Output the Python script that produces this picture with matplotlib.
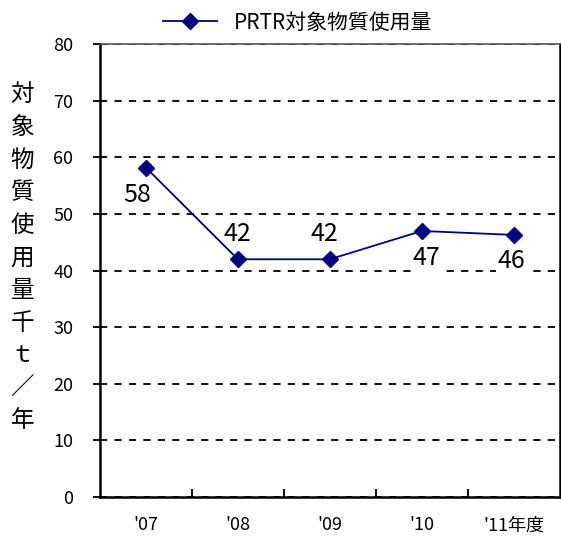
import matplotlib
matplotlib.use('Agg')
import matplotlib.pyplot as plt
import numpy as np

plt.rcParams['font.family'] = ['Noto Sans CJK JP', 'DejaVu Sans']

years = ["'07", "'08", "'09", "'10", "'11年度"]
usage = [58.2, 42, 42, 47, 46.3]
usage_labels = ['58', '42', '42', '47', '46']
# label offsets in points (dx, dy)
label_offsets = [(-6, -29), (0, 9), (-4, 9), (3, -29), (-2, -28)]
ylabel_chars = ['対', '象', '物', '質', '使', '用', '量', '千', 'ｔ', '／', '年']

fig = plt.figure(figsize=(5.61, 5.39), dpi=100)
ax = fig.add_axes([0.178, 0.078, 0.82, 0.84])

x = np.arange(len(years))
ax.plot(x, usage, color='#000080', lw=1.3, marker='D', markersize=8,
        label='PRTR対象物質使用量', zorder=3)

for i, (v, s) in enumerate(zip(usage, usage_labels)):
    ax.annotate(s, (x[i], v), xytext=label_offsets[i], textcoords='offset points',
                ha='center', va='bottom', fontsize=18, zorder=2.5,
                bbox=dict(boxstyle='square,pad=0.05', fc='white', ec='none'))

ax.set_xlim(-0.5, len(years) - 0.5)
ax.set_ylim(0, 80)
ax.set_yticks(range(0, 81, 10))
ax.yaxis.grid(True, linestyle=(0, (4, 4)), color='black', lw=1.3)
ax.set_axisbelow(True)

ax.set_xticks(x)
ax.set_xticklabels(years, fontsize=13)
ax.tick_params(axis='x', length=0, pad=14)
ax.set_xticks(np.arange(0.5, len(years) - 1, 1), minor=True)
ax.tick_params(axis='x', which='minor', direction='in', length=6, width=1.3)
ax.tick_params(axis='y', labelsize=13, direction='out', length=5, width=1.3, pad=14)

for side in ['left', 'bottom', 'right']:
    ax.spines[side].set_linewidth(1.8)
ax.spines['top'].set_linewidth(1.2)
ax.spines['top'].set_color('#555555')

# vertical y label
for i, ch in enumerate(ylabel_chars):
    fig.text(0.040, 0.824 - i * 0.0605, ch, ha='center', va='center', fontsize=17)

ax.legend(loc='lower center', bbox_to_anchor=(0.43, 1.0), frameon=False,
          fontsize=15, handlelength=2.6, borderaxespad=0.1)

fig.savefig('out.png', dpi=100)
